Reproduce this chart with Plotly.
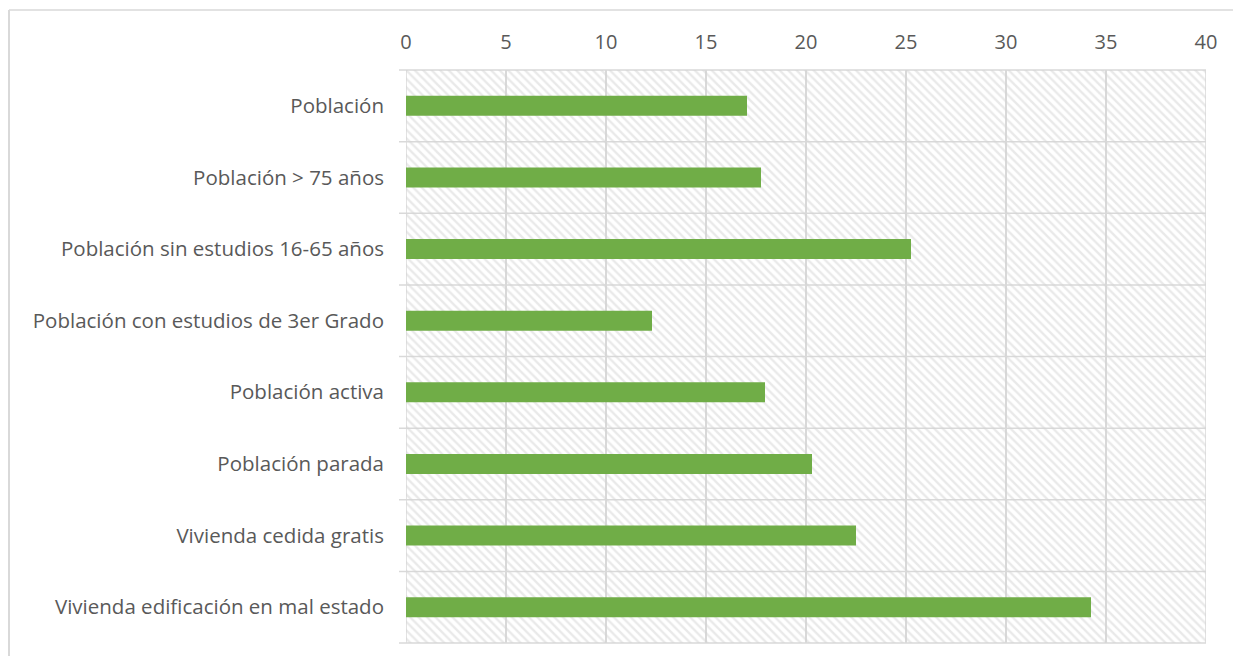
import plotly.graph_objects as go

categories = [
    "Población",
    "Población > 75 años",
    "Población sin estudios 16-65 años",
    "Población con estudios de 3er Grado",
    "Población activa",
    "Población parada",
    "Vivienda cedida gratis",
    "Vivienda edificación en mal estado",
]
values = [17.05, 17.75, 25.25, 12.3, 17.95, 20.3, 22.5, 34.25]
x_max = 40
x_ticks = [0, 5, 10, 15, 20, 25, 30, 35, 40]

font_family = "Open Sans"
text_color = "#595959"
grid_color = "#d9d9d9"

W, H = 1225, 648
L, R, T, B = 398, 27, 62, 13
PW, PH = W - L - R, H - T - B

fig = go.Figure()

# hatched plot-area background
fig.add_trace(go.Bar(
    y=categories, x=[x_max] * len(categories), orientation="h", width=1,
    marker=dict(color="rgba(0,0,0,0)", line=dict(width=0),
                pattern=dict(shape="\\", fgcolor="#d4d4d4", bgcolor="rgba(0,0,0,0)",
                             size=6, solidity=0.4)),
    hoverinfo="skip", showlegend=False,
))

fig.add_trace(go.Bar(
    y=categories, x=values, orientation="h", width=0.28,
    marker=dict(color="#70AD47", line=dict(width=0)),
    showlegend=False,
))

shapes = []
# category boundary lines (with short outside tick)
n = len(categories)
for i in range(n + 1):
    yb = 1 - i / n
    shapes.append(dict(type="line", xref="paper", yref="paper",
                       x0=-7 / PW, x1=1, y0=yb, y1=yb, layer="below",
                       line=dict(color=grid_color, width=1.5)))
# plot edges
for xv in (0, x_max):
    shapes.append(dict(type="line", xref="x", yref="paper",
                       x0=xv, x1=xv, y0=0, y1=1, layer="below",
                       line=dict(color=grid_color, width=1.5)))
# outer chart border (top and left)
shapes.append(dict(type="line", xref="paper", yref="paper",
                   x0=-(L - 1) / PW, x1=1.1, y0=1 + (T - 2) / PH, y1=1 + (T - 2) / PH,
                   line=dict(color=grid_color, width=1.3)))
shapes.append(dict(type="line", xref="paper", yref="paper",
                   x0=-(L - 1) / PW, x1=-(L - 1) / PW, y0=1 + (T - 2) / PH, y1=-0.1,
                   line=dict(color=grid_color, width=2)))

fig.update_layout(
    width=W, height=H,
    margin=dict(l=L, r=R, t=T, b=B),
    paper_bgcolor="white", plot_bgcolor="white",
    barmode="overlay",
    font=dict(family=font_family, size=20, color=text_color),
    xaxis=dict(side="top", range=[0, x_max], tickvals=x_ticks,
               showgrid=True, gridcolor=grid_color, gridwidth=1.5,
               zeroline=False, showline=False, ticks="",
               ticklabelstandoff=16,
               tickfont=dict(size=20, color=text_color)),
    yaxis=dict(type="category", autorange="reversed",
               showgrid=False, ticks="", ticklabelstandoff=21,
               zeroline=False, showline=False,
               tickfont=dict(size=20.5, color=text_color)),
    shapes=shapes,
)

fig.write_html("out.html")
